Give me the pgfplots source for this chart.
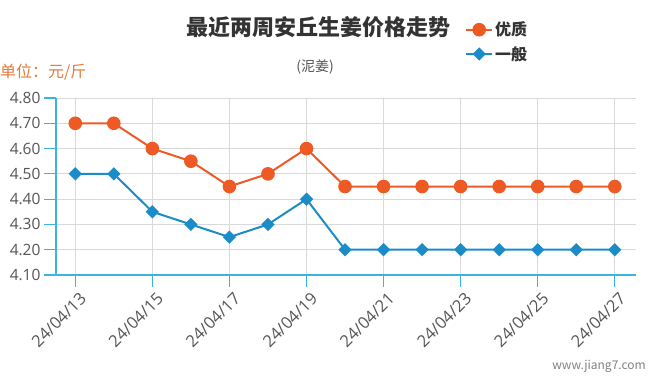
\documentclass[border=0pt]{standalone}
\usepackage{fontspec}
\setmainfont{Noto Sans CJK SC}
\newfontfamily\tickfont{Open Sans}
\usepackage{pgfplots}
\pgfplotsset{compat=1.18}
\definecolor{cOrange}{HTML}{EE5A24}
\definecolor{cBlue}{HTML}{1B8CC8}
\definecolor{cAxis}{HTML}{3BB4E5}
\definecolor{cGrid}{HTML}{D9D9D9}
\definecolor{cText}{HTML}{555555}
\definecolor{cUnit}{HTML}{E07B39}
\definecolor{cTitle}{HTML}{333333}
\begin{document}
\begin{tikzpicture}[x=1pt,y=1pt]
\useasboundingbox (0,0) rectangle (650,376);
\begin{axis}[
  at={(56pt,101pt)}, anchor=south west,
  scale only axis, width=580pt, height=177pt,
  xmin=-0.5, xmax=14.55, ymin=4.1, ymax=4.8,
  axis x line*=bottom, axis y line*=left,
  axis line style={cAxis, line width=1.2pt, -},
  xtick={0,2,4,6,8,10,12,14},
  xticklabels={24/04/13,24/04/15,24/04/17,24/04/19,24/04/21,24/04/23,24/04/25,24/04/27},
  ytick={4.1,4.2,4.3,4.4,4.5,4.6,4.7,4.8},
  yticklabel={\pgfmathprintnumber[fixed,fixed zerofill,precision=2]{\tick}},
  /pgf/number format/assume math mode=true,
  tick style={cAxis, line width=1.2pt},
  tick align=outside, major tick length=12pt,
  grid=major, major grid style={cGrid, line width=0.9pt},
  y tick label style={font=\tickfont\fontsize{15.5}{15.5}\selectfont, text=cText},
  x tick label style={rotate=45, anchor=north east, font=\tickfont\fontsize{16.5}{16.5}\selectfont, text=cText, yshift=-2pt, xshift=3pt},
  legend style={at={(0.700,1.453)}, anchor=north west, draw=none, fill=none,
    font=\fontsize{16}{16}\selectfont\bfseries, text=cTitle, row sep=5pt},
  legend cell align=left,
  legend image code/.code={\draw[mark repeat=2,mark phase=2,#1] plot coordinates {(0pt,0pt)(13pt,0pt)(26pt,0pt)};},
]
\addplot[cOrange, line width=2pt, mark=*, mark size=5.8pt, mark options={fill=cOrange, draw=cOrange}]
  coordinates {(0,4.70)(1,4.70)(2,4.60)(3,4.55)(4,4.45)(5,4.50)(6,4.60)(7,4.45)(8,4.45)(9,4.45)(10,4.45)(11,4.45)(12,4.45)(13,4.45)(14,4.45)};
\addlegendentry{优质}
\addplot[cBlue, line width=2pt, mark=square*, mark size=3.7pt, mark options={fill=cBlue, draw=cBlue, rotate=45}]
  coordinates {(0,4.50)(1,4.50)(2,4.35)(3,4.30)(4,4.25)(5,4.30)(6,4.40)(7,4.20)(8,4.20)(9,4.20)(10,4.20)(11,4.20)(12,4.20)(13,4.20)(14,4.20)};
\addlegendentry{一般}
\end{axis}
\node[font=\fontsize{22}{22}\selectfont\bfseries, text=cTitle] at (318,349) {最近两周安丘生姜价格走势};
\node[font=\fontsize{14}{14}\selectfont, text=cText] at (315,309) {(泥姜)};
\node[font=\fontsize{16}{16}\selectfont, text=cUnit, anchor=west, inner sep=0pt] at (0,304) {单位：元/斤};
\node[font=\fontsize{12}{12}\selectfont, text=gray, anchor=east, inner sep=0pt] at (646,10) {www.jiang7.com};
\end{tikzpicture}
\end{document}
